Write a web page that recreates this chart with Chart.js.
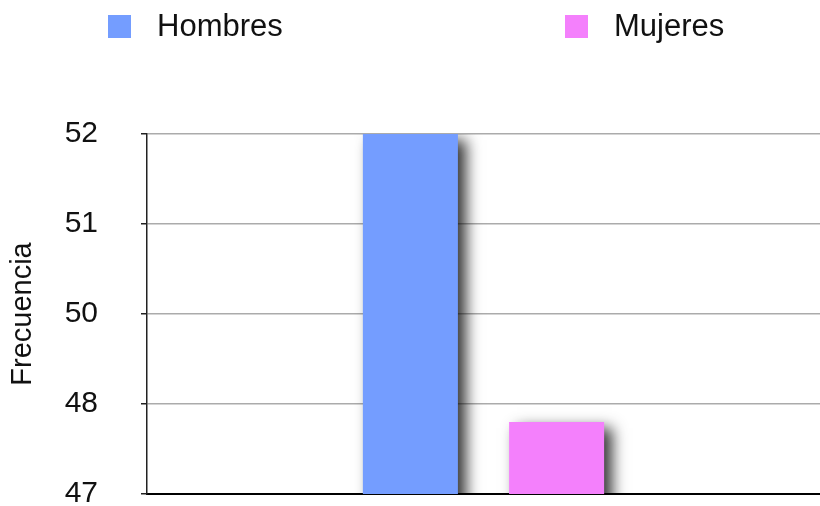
<!DOCTYPE html>
<html>
<head>
<meta charset="utf-8">
<script src="https://cdn.jsdelivr.net/npm/chart.js@4/dist/chart.umd.min.js"></script>
<style>
  html, body { margin: 0; padding: 0; background: #fff; }
  #wrap { width: 820px; height: 506px; }
</style>
</head>
<body>
<div id="wrap"><canvas id="freqChart" width="820" height="506"></canvas></div>
<script>
// Frecuencia por sexo
var categories = [''];
var seriesNames = ['Hombres', 'Mujeres'];
var hombres = [52];
var mujeres = [48];
var yMin = 47;
var yMax = 52;
var yStep = 1.25;

var colors = ['#749dff', '#f480fc'];
var fontFamily = '"Liberation Sans", Arial, Helvetica, sans-serif';

// drop shadow under each bar
var barShadow = {
    id: 'barShadow',
    beforeDatasetDraw: function (chart) {
        var ctx = chart.ctx;
        ctx.save();
        ctx.shadowColor = 'rgba(0, 0, 0, 0.8)';
        ctx.shadowBlur = 14;
        ctx.shadowOffsetX = 8;
        ctx.shadowOffsetY = 6;
    },
    afterDatasetDraw: function (chart) {
        chart.ctx.restore();
    }
};

// legend laid out wide across the top
var wideLegend = {
    id: 'wideLegend',
    afterDraw: function (chart) {
        var ctx = chart.ctx;
        var spots = [108, 565];
        ctx.save();
        ctx.font = '31px ' + fontFamily;
        ctx.textBaseline = 'middle';
        ctx.textAlign = 'left';
        chart.data.datasets.forEach(function (ds, i) {
            var x = spots[i];
            ctx.fillStyle = ds.backgroundColor;
            ctx.fillRect(x, 15, 23, 23);
            ctx.fillStyle = '#111';
            ctx.fillText(ds.label, x + 49, 27);
        });
        ctx.restore();
    }
};

var ctx = document.getElementById('freqChart').getContext('2d');
new Chart(ctx, {
    type: 'bar',
    data: {
        labels: categories,
        datasets: [{
            label: seriesNames[0],
            data: hombres,
            backgroundColor: colors[0]
        }, {
            label: seriesNames[1],
            data: mujeres,
            backgroundColor: colors[1]
        }]
    },
    options: {
        responsive: false,
        animation: false,
        layout: { padding: { top: 134, bottom: 12, left: 0, right: 0 } },
        categoryPercentage: 0.4345,
        barPercentage: 0.65,
        plugins: {
            legend: { display: false },
            tooltip: { enabled: false }
        },
        scales: {
            x: {
                afterFit: function (scale) { scale.height = 0; },
                grid: { display: false },
                ticks: { display: false },
                border: { display: true, color: '#000', width: 2 }
            },
            y: {
                min: yMin,
                max: yMax,
                afterFit: function (scale) {
                    scale.width = 147;
                    // the 47 label may hang below the plot
                    scale.paddingTop = 0;
                    scale.paddingBottom = 0;
                },
                ticks: {
                    stepSize: yStep,
                    padding: 43,
                    color: '#111',
                    font: { family: fontFamily, size: 30 },
                    callback: function (v) { return Math.round(v); }
                },
                grid: {
                    color: function (c) { return c.tick && c.tick.value === yMin ? '#000' : '#ababab'; },
                    lineWidth: 1.5,
                    tickLength: 6,
                    tickColor: '#222'
                },
                border: { color: '#222', width: 1.5 },
                title: {
                    display: true,
                    text: 'Frecuencia',
                    color: '#111',
                    font: { family: fontFamily, size: 29 },
                    padding: { top: 6, bottom: 0 }
                }
            }
        }
    },
    plugins: [barShadow, wideLegend]
});
</script>
</body>
</html>
